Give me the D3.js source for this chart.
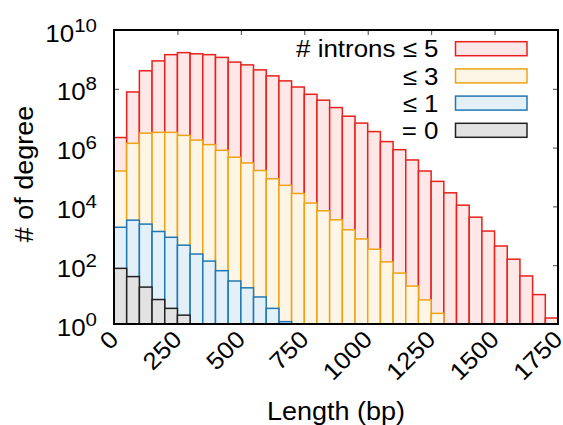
<!DOCTYPE html>
<html>
<head>
<meta charset="utf-8">
<script src="https://cdn.jsdelivr.net/npm/d3@7"></script>
<style>
  body { margin: 0; background: #fff; }
  text { font-family: "Liberation Sans", Arial, sans-serif; fill: #000; }
</style>
</head>
<body>
<svg id="chart" width="563" height="425"></svg>
<script>
// bins are 50 bp wide, starting at 0
const binWidth = 50;

// # introns <= 5
const le5 = [2.2e6, 7.8e7, 4.1e8, 8.9e8, 1.45e9, 1.7e9, 1.55e9, 1.45e9, 1.17e9, 8.1e8,
    6.5e8, 4.4e8, 2.75e8, 1.86e8, 1.15e8, 6.5e7, 4.1e7, 2.3e7, 1.17e7, 6.8e6,
    3.5e6, 1.6e6, 8.5e5, 3.8e5, 1.6e5, 7.1e4, 2.9e4, 1.1e4, 4300, 1450,
    450, 160, 43, 10, 1.6];
// # introns <= 3
const le3 = [1.6e5, 1.4e6, 3.1e6, 3.3e6, 3.3e6, 2.6e6, 1.8e6, 1.26e6, 8.1e5, 4.7e5,
    3.0e5, 1.66e5, 8.7e4, 5.2e4, 2.75e4, 1.3e4, 7100, 3500, 1600, 780,
    350, 130, 54, 19.5, 6.6, 2.3];
// # introns <= 1
const le1 = [1950, 3400, 2500, 1400, 890, 480, 240, 138, 65, 29, 17, 8.3, 3.4, 1.2];
// # introns = 0
const eq0 = [78, 41, 18, 6.8, 3.4, 2];

const xTicks = [0, 250, 500, 750, 1000, 1250, 1500, 1750];
const yExponents = [0, 2, 4, 6, 8, 10];

const series = [
    {label: "# introns \u2264 5", values: le5, stroke: "#e8211c", fill: "#fde7e7"},
    {label: "\u2264 3", values: le3, stroke: "#eea315", fill: "#fdf5e6"},
    {label: "\u2264 1", values: le1, stroke: "#1f78b4", fill: "#e4f0f8"},
    {label: "= 0", values: eq0, stroke: "#222222", fill: "#e2e2e2"}
];

var svg = d3.select("svg#chart");
var margin = {left: 114, right: 5, top: 30, bottom: 101};
var width = 563 - margin.left - margin.right,
    height = 425 - margin.top - margin.bottom;

// the reference font is a bit wider than Liberation Sans
const stretch = "scale(1.08,1)";

var g = svg.append("g").attr("transform", `translate(${margin.left},${margin.top})`);

var x = d3.scaleLinear().domain([0, 1750]).range([0, width]);
var y = d3.scaleLog().domain([1, 1e10]).range([height, 0]);
var yTickVals = yExponents.map(e => Math.pow(10, e));

// ticks (inward, mirrored like gnuplot)
const tickStyle = sel => sel.call(s => s.select(".domain").remove())
    .call(s => s.selectAll(".tick line").attr("stroke", "#444").attr("stroke-width", 1))
    .call(s => s.selectAll(".tick text").remove());

g.append("g").attr("transform", `translate(0,${height})`)
    .call(d3.axisBottom(x).tickValues(xTicks).tickSize(-5)).call(tickStyle);
g.append("g")
    .call(d3.axisTop(x).tickValues(xTicks).tickSize(-5)).call(tickStyle);
g.append("g")
    .call(d3.axisLeft(y).tickValues(yTickVals).tickSize(-5)).call(tickStyle);
g.append("g").attr("transform", `translate(${width},0)`)
    .call(d3.axisRight(y).tickValues(yTickVals).tickSize(-5)).call(tickStyle);

// bars, largest series first
series.forEach(s => {
    g.append("g").selectAll("rect")
        .data(s.values)
        .enter()
        .append("rect")
        .attr("x", (d, i) => x(i * binWidth))
        .attr("width", x(binWidth) - x(0))
        .attr("y", d => y(d))
        .attr("height", d => y(1) - y(d))
        .attr("fill", s.fill)
        .attr("stroke", s.stroke)
        .attr("stroke-width", 1.5);
});

// border
g.append("rect")
    .attr("width", width).attr("height", height)
    .attr("fill", "none").attr("stroke", "#000").attr("stroke-width", 2);

// y tick labels 10^n
yExponents.forEach(e => {
    let t = g.append("text")
        .attr("transform", `translate(-17,${y(Math.pow(10, e)) + 11.5}) ${stretch}`)
        .attr("text-anchor", "end")
        .style("font-size", "24px");
    t.append("tspan").text("10");
    t.append("tspan").attr("dy", -10).style("font-size", "19px").text(e);
});

// x tick labels, rotated
xTicks.forEach(v => {
    g.append("text")
        .attr("transform", `translate(${x(v) - 6},${height + 5}) rotate(-45) ${stretch}`)
        .attr("text-anchor", "end")
        .attr("dy", "0.7em")
        .style("font-size", "24px")
        .text(v);
});

// axis titles
svg.append("text")
    .attr("transform", `translate(${margin.left + width / 2},420) ${stretch}`)
    .attr("text-anchor", "middle")
    .style("font-size", "25px")
    .text("Length (bp)");

svg.append("text")
    .attr("transform", `translate(33,${margin.top + height / 2 - 3}) rotate(-90) ${stretch}`)
    .attr("text-anchor", "middle")
    .style("font-size", "25px")
    .text("# of degree");

// legend
var legend = g.append("g");
series.forEach((s, i) => {
    let cy = 18.7 + i * 27.2;
    legend.append("text")
        .attr("transform", `translate(324.5,${cy + 8.6}) ${stretch}`)
        .attr("text-anchor", "end")
        .style("font-size", "24px")
        .text(s.label);
    legend.append("rect")
        .attr("x", 341.5).attr("y", cy - 7)
        .attr("width", 71.5).attr("height", 14)
        .attr("fill", s.fill)
        .attr("stroke", s.stroke)
        .attr("stroke-width", 1.5);
});
</script>
</body>
</html>
